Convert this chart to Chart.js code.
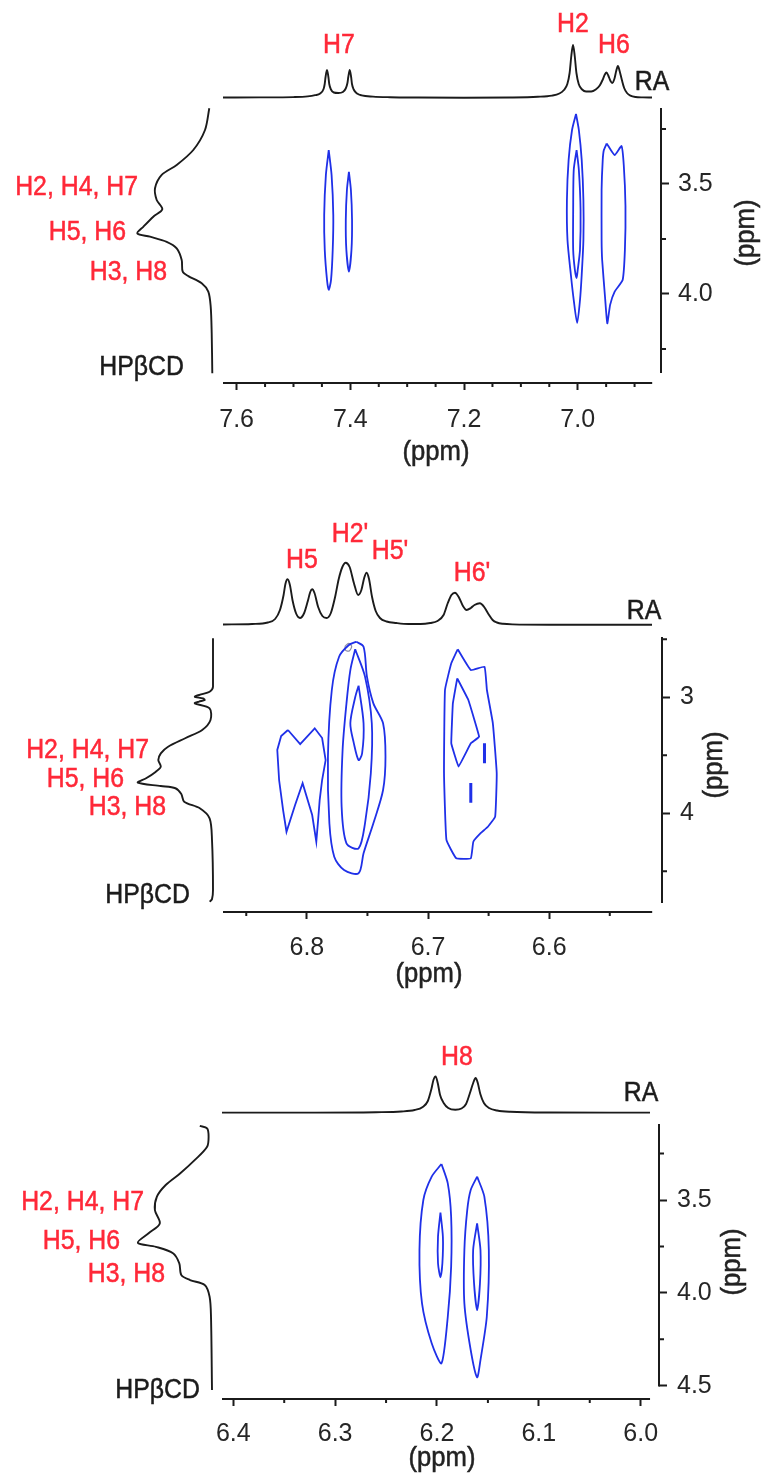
<!DOCTYPE html>
<html>
<head>
<meta charset="utf-8">
<script src="https://cdn.jsdelivr.net/npm/chart.js@4.4.1/dist/chart.umd.min.js"></script>
<style>
html,body{margin:0;padding:0;background:#fff;}
#root{position:relative;width:763px;height:1477px;overflow:hidden;background:#fff;}
.panel{position:absolute;left:0;width:763px;}
.panel canvas{position:absolute;left:0;top:0;}
</style>
</head>
<body>
<div id="root">
  <div class="panel" style="top:0;height:480px">
    <canvas id="p1t" width="763" height="480"></canvas>
    <canvas id="p1l" width="763" height="480"></canvas>
    <canvas id="p1c" width="763" height="480"></canvas>
  </div>
  <div class="panel" style="top:480px;height:520px">
    <canvas id="p2t" width="763" height="520"></canvas>
    <canvas id="p2l" width="763" height="520"></canvas>
    <canvas id="p2c" width="763" height="520"></canvas>
  </div>
  <div class="panel" style="top:1000px;height:477px">
    <canvas id="p3t" width="763" height="477"></canvas>
    <canvas id="p3l" width="763" height="477"></canvas>
    <canvas id="p3c" width="763" height="477"></canvas>
  </div>
</div>
<script>
// ---------------- DATA ----------------
// Panel 1: RA aromatic region 7.62–6.87 ppm vs HPβCD 3.15–4.36 ppm
const p1TopPpm = [7.624,7.56,7.50,7.475,7.462,7.453,7.447,7.445,7.4435,7.441,7.4385,7.437,7.434,7.429,7.421,7.413,7.408,7.405,7.4035,7.401,7.3985,7.397,7.394,7.388,7.380,7.36,7.33,7.28,7.20,7.12,7.07,7.045,7.032,7.024,7.018,7.014,7.011,7.008,7.005,7.002,6.998,6.992,6.985,6.976,6.968,6.961,6.956,6.952,6.949,6.946,6.942,6.939,6.935,6.932,6.929,6.926,6.922,6.918,6.913,6.907,6.898,6.885,6.869];
const p1TopInt = [0.5,0.6,0.9,1.6,2.8,4.5,9,14,21,28,21,14,8.5,5.5,5,6,9.5,15,21,28,21,14,8.5,4.5,2.6,1.4,0.8,0.5,0.3,0.5,1.2,2.4,4.5,8,14,25,42,53,42,25,14,8.5,6.5,6.5,8.5,12.5,18,23.5,25.5,22.5,17,15,19.5,27,32,27,18,10,5,2.4,1,0.6,0.5];
const p1LeftPpm = [3.156,3.255,3.346,3.414,3.459,3.520,3.573,3.615,3.649,3.695,3.725,3.740,3.763,3.793,3.846,3.899,3.919,3.952,3.990,4.058,4.179,4.361];
const p1LeftInt = [3.7,8,19.7,36.3,51.3,58,56.3,50.7,59.7,69.7,75.7,63,46.3,36.3,31.3,30.3,24.7,11.3,4.7,2.3,1.3,0.7];
const p1XMajor = [7.6,7.4,7.2,7.0];
const p1XMinor = [7.55,7.5,7.45,7.35,7.3,7.25,7.15,7.1,7.05,6.95,6.9];
const p1YMajor = [3.5,4.0];
const p1YMinor = [3.25,3.75,4.25];
const p1CntH7a = [[7.438,3.346],[7.433,3.459],[7.430,3.641],[7.431,3.800],[7.434,3.937],[7.438,3.982],[7.441,3.937],[7.445,3.800],[7.446,3.641],[7.443,3.459]];
const p1CntH7b = [[7.4025,3.445],[7.399,3.528],[7.397,3.664],[7.398,3.800],[7.4025,3.899],[7.407,3.800],[7.408,3.664],[7.406,3.528]];
const p1CntH2out = [[7.003,3.182],[6.998,3.255],[6.993,3.391],[6.990,3.573],[6.990,3.755],[6.993,3.914],[6.996,4.028],[7.001,4.132],[7.007,4.028],[7.012,3.914],[7.018,3.755],[7.019,3.573],[7.016,3.391],[7.010,3.255]];
const p1CntH2in = [[7.002,3.346],[6.998,3.437],[6.995,3.619],[6.996,3.800],[7.000,3.891],[7.002,3.928],[7.005,3.891],[7.008,3.800],[7.008,3.619],[7.007,3.437]];
const p1CntH6 = [[6.949,3.316],[6.935,3.369],[6.923,3.328],[6.919,3.414],[6.916,3.600],[6.917,3.800],[6.921,3.937],[6.935,3.990],[6.943,4.050],[6.948,4.134],[6.952,4.013],[6.957,3.846],[6.958,3.755],[6.958,3.528],[6.956,3.391],[6.954,3.346]];

// Panel 2: RA region 6.87–6.52 ppm vs HPβCD 2.48–4.85 ppm
const p2TopPpm = [6.869,6.845,6.832,6.826,6.822,6.819,6.8175,6.8157,6.8138,6.8115,6.8085,6.8055,6.8020,6.7990,6.7970,6.7954,6.7935,6.7905,6.7870,6.7835,6.7800,6.7765,6.7735,6.7705,6.7678,6.7645,6.7610,6.7575,6.7548,6.7525,6.7505,6.7485,6.7460,6.7430,6.7395,6.734,6.726,6.716,6.706,6.698,6.692,6.687,6.6835,6.6805,6.6776,6.6745,6.671,6.668,6.6645,6.6615,6.657,6.6535,6.650,6.6465,6.643,6.638,6.63,6.60,6.55,6.515];
const p2TopInt = [0.5,1,2.5,6,15,30,41,45.7,40,24,11,7,12,24,33,35.7,32,18,9,7,12,28,46,58,62.3,58,42,30,35,47,52.3,46,28,14,7,3.5,2,1,1,2,4,10,22,30,32.3,28,19,15,17,20,21.7,18,11,5,2.5,1.2,0.6,0.3,0.3,0.3];
const p2LeftPpm = [2.491,2.909,2.952,2.975,2.995,3.010,3.023,3.037,3.052,3.095,3.196,3.282,3.353,3.426,3.483,3.541,3.598,3.641,3.698,3.736,3.765,3.784,3.834,3.900,3.957,4.043,4.230,4.661,4.740,4.762];
const p2LeftInt = [0,0,3.4,12,18.2,10,8.3,14,18.2,3.4,2.5,10.8,27.8,44.9,52.2,54.7,52.2,57.1,66.9,75.2,52.2,37.6,31.7,28.8,13.2,3.4,1,0,1,3.4];
const p2XMajor = [6.8,6.7,6.6];
const p2XMinor = [6.85,6.75,6.65,6.55];
const p2YMajor = [3,4];
const p2YMinor = [2.5,3.5,4.5];
const p2CntH5 = [[6.8156,3.282],[6.8055,3.403],[6.7935,3.267],[6.7874,3.351],[6.7845,3.541],[6.7874,3.713],[6.7894,3.885],[6.7907,4.058],[6.7922,4.245],[6.7956,4.015],[6.8035,3.741],[6.8097,3.928],[6.8168,4.159],[6.8196,3.972],[6.8229,3.713],[6.8244,3.454],[6.8212,3.334]];
const p2CntH2out = [[6.7592,2.521],[6.7532,2.564],[6.7504,2.822],[6.7451,3.052],[6.7371,3.224],[6.7351,3.512],[6.7371,3.799],[6.7451,4.086],[6.7532,4.345],[6.7573,4.517],[6.7693,4.489],[6.7774,4.374],[6.7814,4.086],[6.7826,3.512],[6.7794,2.937],[6.7734,2.650],[6.7653,2.549]];
const p2CntH2mid = [[6.7601,2.586],[6.7520,2.822],[6.7464,3.224],[6.7472,3.655],[6.7520,4.086],[6.7573,4.302],[6.7673,4.259],[6.7713,3.943],[6.7705,3.454],[6.7673,3.052],[6.7641,2.765]];
const p2CntH2in = [[6.7573,2.900],[6.7532,3.224],[6.7544,3.483],[6.7573,3.541],[6.7612,3.397],[6.7641,3.224],[6.7601,3.000]];
const p2CntSpeck = [[6.7685,2.560],[6.7655,2.535],[6.7630,2.560],[6.7650,2.600],[6.7680,2.595]];
const p2CntH6out = [[6.6755,2.586],[6.6647,2.765],[6.6534,2.736],[6.6514,2.937],[6.6465,3.224],[6.6433,3.655],[6.6446,4.029],[6.6506,4.116],[6.6566,4.172],[6.6626,4.245],[6.6647,4.388],[6.6767,4.388],[6.6848,4.230],[6.6868,3.655],[6.6860,2.937],[6.6808,2.707]];
const p2CntH6in = [[6.6759,2.836],[6.6667,3.023],[6.6578,3.340],[6.6647,3.397],[6.6748,3.598],[6.6808,3.397],[6.6795,3.052]];
const p2CntDotA = [[6.6534,3.397],[6.6534,3.569]];
const p2CntDotB = [[6.6647,3.739],[6.6647,3.910]];

// Panel 3: RA region 6.41–5.99 ppm vs HPβCD 3.09–4.57 ppm
const p3TopPpm = [6.411,6.32,6.26,6.235,6.222,6.214,6.209,6.2055,6.2035,6.2014,6.1993,6.197,6.1935,6.189,6.182,6.176,6.1715,6.168,6.1645,6.1621,6.160,6.1575,6.154,6.149,6.141,6.128,6.09,5.991];
const p3TopInt = [0.4,0.4,0.8,1.5,3,6,12,24,33,36.6,30,18,10,5,3.3,4.5,9,19,30,35,30,19,10,5,2.5,1.2,0.5,0.4];
const p3LeftPpm = [3.101,3.114,3.159,3.213,3.284,3.356,3.419,3.482,3.554,3.626,3.679,3.730,3.752,3.787,3.841,3.904,3.931,3.958,4.021,4.129,4.524];
const p3LeftInt = [12.2,4.9,3.4,4.9,17.1,31.7,46.3,55.1,57.1,52.2,63.4,74.2,56.1,39,32.7,30.7,22,7.3,2.4,1,0];
const p3XMajor = [6.4,6.3,6.2,6.1,6.0];
const p3XMinor = [6.35,6.25,6.15,6.05];
const p3YMajor = [3.5,4.0,4.5];
const p3YMinor = [3.25,3.75,4.25];
const p3CntH8aOut = [[6.1956,3.306],[6.1894,3.410],[6.1861,3.590],[6.1861,3.859],[6.1894,4.129],[6.1956,4.380],[6.2052,4.272],[6.2147,4.057],[6.2172,3.769],[6.2134,3.500],[6.2052,3.374]];
const p3CntH8aIn = [[6.1966,3.568],[6.1942,3.698],[6.1947,3.841],[6.1966,3.916],[6.1990,3.841],[6.1990,3.698]];
const p3CntH8bOut = [[6.1606,3.374],[6.1535,3.482],[6.1491,3.769],[6.1511,4.129],[6.1573,4.362],[6.1606,4.455],[6.1669,4.308],[6.1731,4.057],[6.1731,3.769],[6.1703,3.554],[6.1669,3.446]];
const p3CntH8bIn = [[6.1606,3.626],[6.1573,3.769],[6.1578,3.949],[6.1606,4.093],[6.1636,3.949],[6.1645,3.769]];

// ---------------- STYLE / LAYOUT ----------------
const FONT = "'Liberation Sans', Arial, Helvetica, sans-serif";
const BLUE = '#1f30e8';
const RED = '#ff2838';
const INK = '#1b1b1b';
Chart.defaults.font.family = FONT;

const PANELS = [
  { id:'p1', top:0,
    area:{left:223,right:661,top:108,bottom:383}, xRange:[7.624,6.8535], yRange:[3.155,4.405],
    xAxisEnd:6.869, yAxisEnd:4.359, xDec:1, yDec:1, xPad:15, yPad:9,
    topArea:{left:223,right:652,top:35,bottom:98}, topMax:63,
    leftArea:{left:130,right:213}, leftMax:83,
    top1d:[p1TopPpm,p1TopInt], left1d:[p1LeftPpm,p1LeftInt],
    xMajor:p1XMajor, xMinor:p1XMinor, yMajor:p1YMajor, yMinor:p1YMinor,
    contours:[{d:p1CntH7a},{d:p1CntH7b},{d:p1CntH2out},{d:p1CntH2in},{d:p1CntH6,t:0.15}],
    xTitle:[436,453], yTitle:[747,233],
    labels:[
      {t:'H7',x:339,y:46,c:RED,a:'center'},{t:'H2',x:573,y:25,c:RED,a:'center'},{t:'H6',x:614,y:46,c:RED,a:'center'},
      {t:'RA',x:652,y:83,c:INK,a:'center'},
      {t:'H2, H4, H7',x:138,y:188,c:RED,a:'right'},{t:'H5, H6',x:126,y:233,c:RED,a:'right'},
      {t:'H3, H8',x:167,y:273,c:RED,a:'right'},{t:'HPβCD',x:184,y:368,c:INK,a:'right'}]
  },
  { id:'p2', top:480,
    area:{left:223,right:662,top:637,bottom:912}, xRange:[6.8692,6.5069], yRange:[2.480,4.851],
    xAxisEnd:6.515, yAxisEnd:4.773, xDec:1, yDec:0, xPad:14, yPad:10,
    topArea:{left:223,right:652,top:562,bottom:625}, topMax:63,
    leftArea:{left:130,right:213}, leftMax:83,
    top1d:[p2TopPpm,p2TopInt], left1d:[p2LeftPpm,p2LeftInt],
    xMajor:p2XMajor, xMinor:p2XMinor, yMajor:p2YMajor, yMinor:p2YMinor,
    contours:[{d:p2CntH5,t:0},{d:p2CntH2out,t:0.3},{d:p2CntH2mid,t:0.3},{d:p2CntH2in,t:0.3},
              {d:p2CntSpeck,t:0.3,c:'#8a8aa8',w:1.2},{d:p2CntH6out,t:0.1},{d:p2CntH6in,t:0.05},
              {d:p2CntDotA,t:0,w:3},{d:p2CntDotB,t:0,w:3}],
    xTitle:[429,975], yTitle:[715,765],
    labels:[
      {t:'H5',x:302,y:561,c:RED,a:'center'},{t:"H2'",x:350,y:535,c:RED,a:'center'},
      {t:"H5'",x:390,y:552,c:RED,a:'center'},{t:"H6'",x:472,y:574,c:RED,a:'center'},
      {t:'RA',x:644,y:612,c:INK,a:'center'},
      {t:'H2, H4, H7',x:149,y:751,c:RED,a:'right'},{t:'H5, H6',x:124,y:780,c:RED,a:'right'},
      {t:'H3, H8',x:166,y:808,c:RED,a:'right'},{t:'HPβCD',x:190,y:896,c:INK,a:'right'}]
  },
  { id:'p3', top:1000,
    area:{left:222,right:659,top:1124,bottom:1399}, xRange:[6.4111,5.982], yRange:[3.0905,4.572],
    xAxisEnd:5.9908, yAxisEnd:4.505, xDec:1, yDec:1, xPad:13, yPad:10,
    topArea:{left:222,right:650,top:1050,bottom:1113}, topMax:63,
    leftArea:{left:129,right:212}, leftMax:83,
    top1d:[p3TopPpm,p3TopInt], left1d:[p3LeftPpm,p3LeftInt],
    xMajor:p3XMajor, xMinor:p3XMinor, yMajor:p3YMajor, yMinor:p3YMinor,
    contours:[{d:p3CntH8aOut},{d:p3CntH8aIn},{d:p3CntH8bOut},{d:p3CntH8bIn}],
    xTitle:[442,1459], yTitle:[733,1262],
    labels:[
      {t:'H8',x:457,y:1058,c:RED,a:'center'},{t:'RA',x:641,y:1094,c:INK,a:'center'},
      {t:'H2, H4, H7',x:144,y:1203,c:RED,a:'right'},{t:'H5, H6',x:120,y:1242,c:RED,a:'right'},
      {t:'H3, H8',x:165,y:1275,c:RED,a:'right'},{t:'HPβCD',x:200,y:1391,c:INK,a:'right'}]
  }
];

const zipXY = (xs, ys) => xs.map((x, i) => ({x, y: ys[i]}));
const closedLoop = (a) => a.concat([a[0]]).map(([x, y]) => ({x, y}));
const common = { responsive:false, animation:false, events:[],
  plugins:{ legend:{display:false}, tooltip:{enabled:false} } };

function squeezedText(ctx, t, x, y, sx, sy) {
  ctx.save();
  ctx.translate(x, y);
  ctx.scale(sx, sy);
  ctx.strokeText(t, 0, 0);
  ctx.fillText(t, 0, 0);
  ctx.restore();
}

const decor = {
  id: 'decor',
  afterDraw(chart, _a, o) {
    const {ctx, chartArea:a, scales:{x, y}} = chart;
    ctx.save();
    ctx.strokeStyle = INK; ctx.lineWidth = 2;
    ctx.beginPath();
    ctx.moveTo(a.left, a.bottom); ctx.lineTo(x.getPixelForValue(o.xEnd), a.bottom);
    ctx.moveTo(a.right, a.top); ctx.lineTo(a.right, y.getPixelForValue(o.yEnd));
    o.xMinor.forEach(v => { const p = x.getPixelForValue(v); ctx.moveTo(p, a.bottom); ctx.lineTo(p, a.bottom + 4); });
    o.yMinor.forEach(v => { const p = y.getPixelForValue(v); ctx.moveTo(a.right, p); ctx.lineTo(a.right + 5, p); });
    ctx.stroke();
    const off = o.top;
    ctx.textBaseline = 'middle';
    ctx.lineWidth = 0.5;
    ctx.fillStyle = '#222'; ctx.strokeStyle = '#222';
    ctx.font = `27px ${FONT}`;
    ctx.textAlign = 'center';
    squeezedText(ctx, '(ppm)', o.xTitle[0], o.xTitle[1] - off, 0.95, 1);
    ctx.save();
    ctx.translate(o.yTitle[0], o.yTitle[1] - off);
    ctx.rotate(-Math.PI / 2);
    squeezedText(ctx, '(ppm)', 0, 0, 0.95, 1);
    ctx.restore();
    ctx.font = `27px ${FONT}`;
    o.labels.forEach(l => {
      ctx.fillStyle = l.c; ctx.strokeStyle = l.c; ctx.textAlign = l.a;
      squeezedText(ctx, l.t, l.x, l.y - off, 0.92, 1);
    });
    ctx.restore();
  }
};

PANELS.forEach(P => {
  const off = P.top;
  // top 1D spectrum
  const ct = document.getElementById(P.id + 't');
  new Chart(ct, {
    type:'scatter',
    data:{datasets:[{data:zipXY(P.top1d[0], P.top1d[1]), showLine:true, borderColor:INK, borderWidth:1.9,
      pointRadius:0, tension:0.4, cubicInterpolationMode:'monotone', clip:false}]},
    options:{...common,
      layout:{padding:{left:P.topArea.left, right:ct.width - P.topArea.right, top:P.topArea.top - off, bottom:ct.height - (P.topArea.bottom - off)}},
      scales:{x:{type:'linear', display:false, reverse:true, min:P.top1d[0][P.top1d[0].length-1], max:P.top1d[0][0]},
              y:{type:'linear', display:false, min:0, max:P.topMax}}}
  });
  // left 1D spectrum
  const cl = document.getElementById(P.id + 'l');
  new Chart(cl, {
    type:'scatter',
    data:{datasets:[{data:P.left1d[0].map((p, i) => ({x:P.left1d[1][i], y:p})), showLine:true, borderColor:INK,
      borderWidth:1.9, pointRadius:0, tension:0.3, clip:false}]},
    options:{...common,
      layout:{padding:{left:P.leftArea.left, right:cl.width - P.leftArea.right, top:P.area.top - off, bottom:cl.height - (P.area.bottom - off)}},
      scales:{x:{type:'linear', display:false, reverse:true, min:0, max:P.leftMax},
              y:{type:'linear', display:false, reverse:true, min:P.yRange[0], max:P.yRange[1]}}}
  });
  // 2D contour map with axes
  const cc = document.getElementById(P.id + 'c');
  const W = cc.width, H = cc.height;
  new Chart(cc, {
    type:'scatter',
    data:{datasets:P.contours.map(c => ({data:closedLoop(c.d), showLine:true, borderColor:c.c || BLUE,
      borderWidth:c.w || 1.8, pointRadius:0, tension:(c.t === undefined ? 0.25 : c.t), clip:false}))},
    options:{...common,
      layout:{padding:{left:P.area.left, top:P.area.top - off, right:0, bottom:0}},
      plugins:{...common.plugins, decor:{xEnd:P.xAxisEnd, yEnd:P.yAxisEnd, xMinor:P.xMinor, yMinor:P.yMinor,
        top:off, xTitle:P.xTitle, yTitle:P.yTitle, labels:P.labels}},
      scales:{
        x:{type:'linear', position:'bottom', reverse:true, min:P.xRange[1], max:P.xRange[0],
          afterBuildTicks:s => { s.ticks = P.xMajor.map(v => ({value:v})); },
          afterFit:s => { s.height = H - (P.area.bottom - off); },
          ticks:{autoSkip:false, maxRotation:0, padding:P.xPad, color:'#262626', font:{size:25},
            callback:v => Number(v).toFixed(P.xDec)},
          grid:{display:true, drawOnChartArea:false, drawTicks:true, tickLength:7, tickWidth:2, tickColor:INK},
          border:{display:false}},
        y:{type:'linear', position:'right', reverse:true, min:P.yRange[0], max:P.yRange[1],
          afterBuildTicks:s => { s.ticks = P.yMajor.map(v => ({value:v})); },
          afterFit:s => { s.width = W - P.area.right; },
          ticks:{autoSkip:false, padding:P.yPad, color:'#262626', font:{size:25},
            callback:v => Number(v).toFixed(P.yDec)},
          grid:{display:true, drawOnChartArea:false, drawTicks:true, tickLength:8, tickWidth:2, tickColor:INK},
          border:{display:false}}
      }},
    plugins:[decor]
  });
});
</script>
</body>
</html>
